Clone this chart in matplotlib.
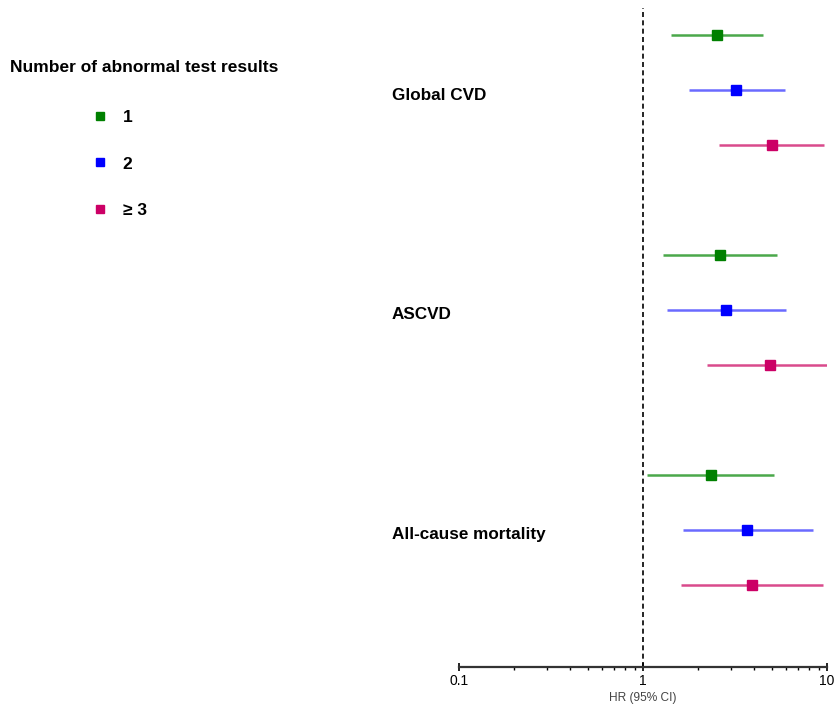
import numpy as np
import matplotlib
matplotlib.use('Agg')
import matplotlib.pyplot as plt
from matplotlib.lines import Line2D

plt.rcParams['font.family'] = ['Liberation Sans', 'DejaVu Sans']

outcomes = ['Global CVD', 'ASCVD', 'All-cause mortality']
groups = ['1', '2', '≥ 3']
colors = ['#008000', '#0000ff', '#cc0066']
line_colors = ['#4aa84a', '#6a6aff', '#d94a8c']

# HR, lower, upper for each outcome x group
hr = [[2.52, 3.20, 5.02],
      [2.62, 2.83, 4.90],
      [2.34, 3.67, 3.91]]
lo = [[1.42, 1.78, 2.59],
      [1.28, 1.35, 2.23],
      [1.05, 1.65, 1.61]]
hi = [[4.49, 5.91, 9.63],
      [5.35, 5.98, 10.4],
      [5.15, 8.39, 9.51]]

fig = plt.figure(figsize=(8.36, 7.15), dpi=100)
ax = fig.add_axes([459/836, 48/715, 368/836, 659/715])

for i, name in enumerate(outcomes):
    for j in range(3):
        y = i * 4 + j
        ax.plot([lo[i][j], hi[i][j]], [y, y], color=line_colors[j], lw=1.8, solid_capstyle='butt')
        ax.plot(hr[i][j], y, marker='s', ms=7.5, color=colors[j], mec=colors[j], ls='none')
    ax.text(-0.182, i * 4 + 1.09, name, transform=ax.get_yaxis_transform(),
            fontsize=12.3, fontweight='bold', ha='left', va='center')

ax.axvline(1, color='black', lw=1.2, ls=(0, (3, 2)))

ax.set_xscale('log')
ax.set_xlim(0.1, 10)
ax.set_ylim(11.5, -0.5)
ax.set_yticks([])
for s in ['top', 'right', 'left']:
    ax.spines[s].set_visible(False)
ax.spines['bottom'].set_linewidth(1.6)
ax.spines['bottom'].set_color('#333333')
ax.set_xticks([0.1, 1, 10])
ax.set_xticklabels(['0.1', '1', '10'])
ax.tick_params(axis='x', which='major', direction='inout', length=6, width=1.2, labelsize=10, pad=2)
ax.tick_params(axis='x', which='minor', direction='out', length=2.5, width=1)
ax.set_xlabel('HR (95% CI)', fontsize=8.6, color='#444444', labelpad=3)

fig.text(10/836, 1 - 67/715, 'Number of abnormal test results', fontsize=12.5,
         fontweight='bold', ha='left', va='center')
handles = [Line2D([], [], marker='s', ls='none', color=c, ms=6) for c in colors]
leg = fig.legend(handles, groups, loc='upper left', bbox_to_anchor=(74/836, 1 - 94/715),
                 frameon=False, labelspacing=1.82, handletextpad=0.7, handlelength=1.2,
                 prop={'weight': 'bold', 'size': 12.5})

fig.savefig('out.png', dpi=100)
